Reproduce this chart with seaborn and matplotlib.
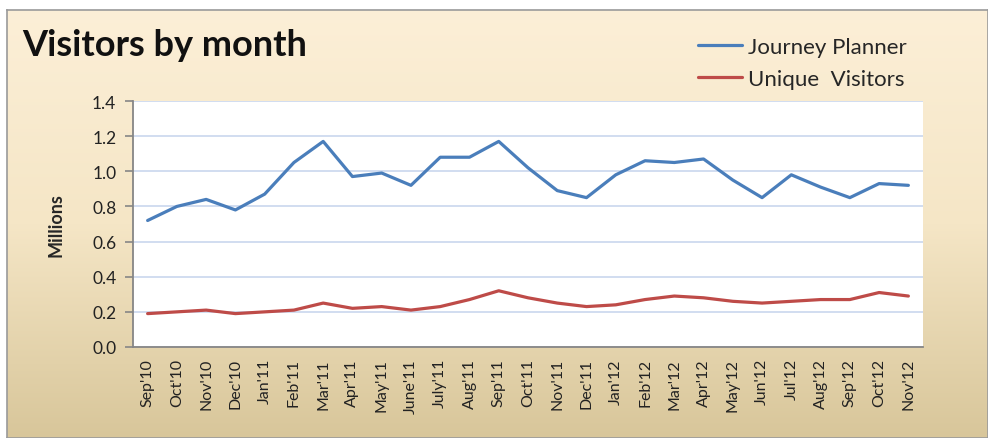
import numpy as np
import pandas as pd
import matplotlib
matplotlib.use("Agg")
import matplotlib.pyplot as plt
from matplotlib.colors import LinearSegmentedColormap
import seaborn as sns

months = ["Sep'10", "Oct'10", "Nov'10", "Dec'10", "Jan'11", "Feb'11", "Mar'11",
          "Apr'11", "May'11", "June'11", "July'11", "Aug'11", "Sep'11", "Oct'11",
          "Nov'11", "Dec'11", "Jan'12", "Feb'12", "Mar'12", "Apr'12", "May'12",
          "Jun'12", "Jul'12", "Aug'12", "Sep'12", "Oct'12", "Nov'12"]
journey_planner = [0.72, 0.80, 0.84, 0.78, 0.87, 1.05, 1.17, 0.97, 0.99, 0.92,
                   1.08, 1.08, 1.17, 1.02, 0.89, 0.85, 0.98, 1.06, 1.05, 1.07,
                   0.95, 0.85, 0.98, 0.91, 0.85, 0.93, 0.92]
unique_visitors = [0.19, 0.20, 0.21, 0.19, 0.20, 0.21, 0.25, 0.22, 0.23, 0.21,
                   0.23, 0.27, 0.32, 0.28, 0.25, 0.23, 0.24, 0.27, 0.29, 0.28,
                   0.26, 0.25, 0.26, 0.27, 0.27, 0.31, 0.29]
series_names = ["Journey Planner", "Unique  Visitors"]
y_ticks = [0.0, 0.2, 0.4, 0.6, 0.8, 1.0, 1.2, 1.4]

sns.set_style("white")
plt.rcParams['font.family'] = ['Lato', 'DejaVu Sans']

W, H = 988, 439
fig = plt.figure(figsize=(W / 100, H / 100), dpi=100)
fig.patch.set_facecolor("white")

# gradient background panel
bg = fig.add_axes([7 / W, 0, 1 - 7 / W, 1 - 11 / H], zorder=0)
cmap = LinearSegmentedColormap.from_list("bg", ["#FCEFD7", "#F5E6C6", "#D8C69A"])
grad = np.linspace(0, 1, 256).reshape(-1, 1)
bg.imshow(grad, aspect="auto", cmap=cmap, extent=[0, 1, 0, 1], origin="upper")
bg.set_xticks([]); bg.set_yticks([])
for s in bg.spines.values():
    s.set_color("#9A9A9A"); s.set_linewidth(1.2)

left, right, top, bottom = 133, 923, 102, 348
ax = fig.add_axes([left / W, 1 - bottom / H, (right - left) / W, (bottom - top) / H], zorder=1)
ax.set_facecolor("white")

n = len(months)
df = pd.DataFrame({
    "idx": list(range(n)) * 2,
    "value": journey_planner + unique_visitors,
    "series": [series_names[0]] * n + [series_names[1]] * n,
})
sns.lineplot(data=df, x="idx", y="value", hue="series", hue_order=series_names,
             palette=["#4A7EBB", "#BE4B48"], linewidth=2.3, ax=ax, legend=True)

ax.set_xlim(-0.5, n - 0.5)
ax.set_ylim(0, 1.4)
ax.set_yticks(y_ticks)
ax.set_yticklabels([f"{v:.1f}" for v in y_ticks], fontsize=12.5, color="#222222")
ax.yaxis.grid(True, color="#C9D7EE", linewidth=1.2)
ax.set_axisbelow(True)
ax.set_xticks(range(n))
ax.set_xticklabels(months, rotation=90, fontsize=11.5, color="#222222")
ax.set_xticks(np.arange(-0.5, n, 1.0), minor=True)
ax.tick_params(axis="x", which="major", length=0, pad=8)
ax.tick_params(axis="x", which="minor", length=5, color="#868686", width=1.2, direction="out")
ax.tick_params(axis="y", length=6, color="#868686", width=1.2, direction="out", pad=6, left=True)
for side in ["top", "right"]:
    ax.spines[side].set_visible(False)
for side in ["left", "bottom"]:
    ax.spines[side].set_color("#868686")
    ax.spines[side].set_linewidth(1.3)
ax.set_xlabel("")
ax.set_ylabel("Millions", fontsize=13, fontweight="bold", labelpad=20)

leg = ax.legend(loc="upper left", bbox_to_anchor=(678 / W, 1 - 18 / H),
                bbox_transform=fig.transFigure, frameon=False, fontsize=16,
                handlelength=2.0, handletextpad=0.25, labelspacing=0.55)
for h in leg.get_lines():
    h.set_linewidth(2.3)

fig.text(22 / W, 1 - 46 / H, "Visitors by month", fontsize=26, fontweight="bold",
         color="#111111", va="center", ha="left")

fig.savefig("out.png", dpi=100)
